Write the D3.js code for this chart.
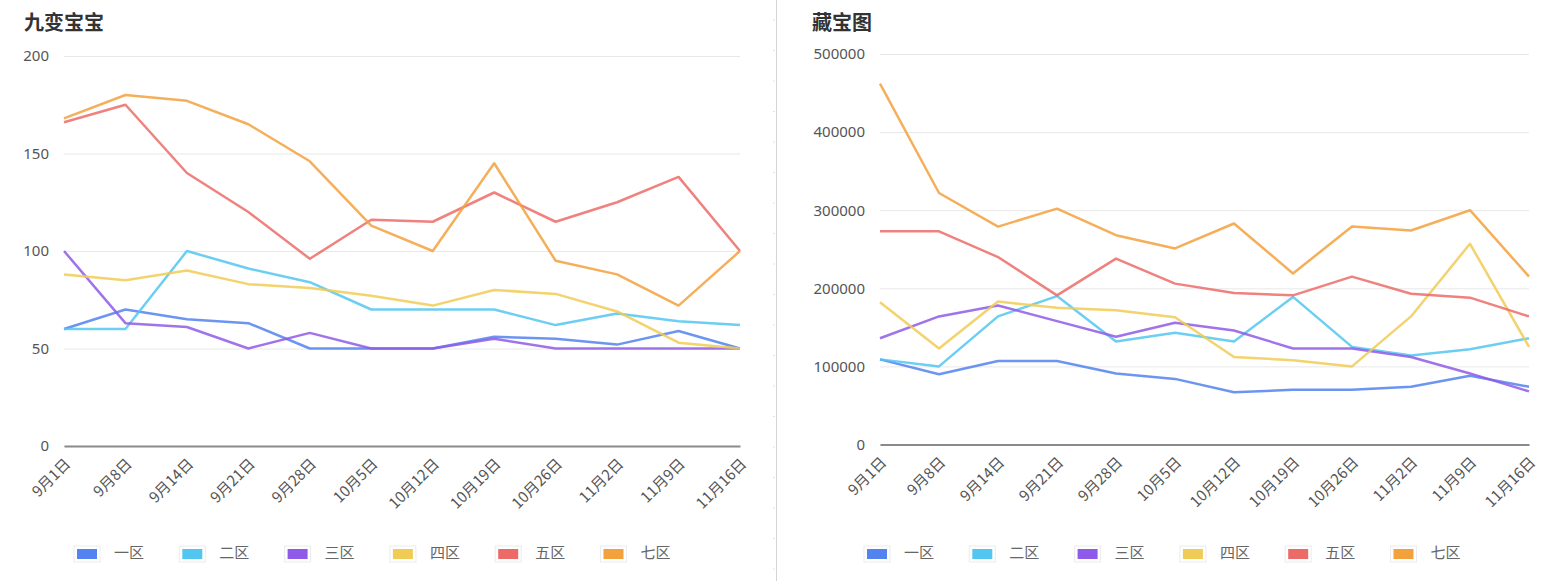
<!DOCTYPE html>
<html>
<head>
<meta charset="utf-8">
<script src="https://cdn.jsdelivr.net/npm/d3@7"></script>
<style>
  html, body { margin: 0; padding: 0; background: #fff; }
  svg { display: block; font-family: "Noto Sans CJK SC", "Noto Sans", sans-serif; }
</style>
</head>
<body>
<svg id="chart" width="1552" height="581"></svg>
<script>
// Categories (dates) shared by both charts
const dates = ["9月1日", "9月8日", "9月14日", "9月21日", "9月28日", "10月5日",
  "10月12日", "10月19日", "10月26日", "11月2日", "11月9日", "11月16日"];

const seriesNames = ["一区", "二区", "三区", "四区", "五区", "七区"];
const seriesColors = ["#5283f0", "#52c6f0", "#8f5ae8", "#f0cb55", "#ec6b67", "#f3a13d"];

// 九变宝宝
const jiubian1 = [60, 70, 65, 63, 50, 50, 50, 56, 55, 52, 59, 50];
const jiubian2 = [60, 60, 100, 91, 84, 70, 70, 70, 62, 68, 64, 62];
const jiubian3 = [100, 63, 61, 50, 58, 50, 50, 55, 50, 50, 50, 50];
const jiubian4 = [88, 85, 90, 83, 81, 77, 72, 80, 78, 69, 53, 50];
const jiubian5 = [166, 175, 140, 120, 96, 116, 115, 130, 115, 125, 138, 100];
const jiubian7 = [168, 180, 177, 165, 146, 113, 100, 145, 95, 88, 72, 100];
const jiubianTicks = [0, 50, 100, 150, 200];

// 藏宝图
const cangbao1 = [109000, 90000, 107000, 107000, 91000, 84000, 67000, 70000, 70000, 74000, 88000, 74000];
const cangbao2 = [109000, 100000, 164000, 190000, 132000, 143000, 132000, 189000, 125000, 114000, 122000, 136000];
const cangbao3 = [136000, 164000, 178000, 158000, 138000, 156000, 146000, 123000, 123000, 112000, 91000, 68000];
const cangbao4 = [182000, 123000, 183000, 175000, 172000, 163000, 112000, 108000, 100000, 164000, 257000, 125000];
const cangbao5 = [273000, 273000, 240000, 191000, 238000, 206000, 194000, 191000, 215000, 193000, 188000, 164000];
const cangbao7 = [462000, 322000, 279000, 302000, 268000, 251000, 283000, 219000, 279000, 274000, 300000, 215000];
const cangbaoTicks = [0, 100000, 200000, 300000, 400000, 500000];

const svg = d3.select("#chart");

function drawChart(opts) {
  const g = svg.append("g");

  const x = d3.scalePoint().domain(dates).range([opts.left, opts.right]);
  const y = d3.scaleLinear().domain([0, d3.max(opts.ticks)]).range([opts.bottom, opts.top]);

  // title
  g.append("text")
    .attr("x", opts.titleX)
    .attr("y", 25)
    .attr("dominant-baseline", "middle")
    .attr("font-size", 20)
    .attr("font-weight", "bold")
    .attr("fill", "#333")
    .text(opts.title);

  // grid lines + y labels
  const yAxis = d3.axisLeft(y)
    .tickValues(opts.ticks)
    .tickFormat(d3.format("d"))
    .tickSize(-(opts.right - opts.left))
    .tickPadding(15);
  const ya = g.append("g").attr("transform", `translate(${opts.left},0)`).call(yAxis);
  ya.select(".domain").remove();
  ya.selectAll(".tick line").attr("stroke", "#e8e8e8").attr("stroke-width", 1);
  ya.selectAll(".tick text")
    .attr("font-size", 15)
    .attr("fill", "#555")
    .attr("font-family", "'Noto Sans', sans-serif");

  // baseline axis
  const xAxis = d3.axisBottom(x).tickSize(0).tickPadding(0);
  const xa = g.append("g").attr("transform", `translate(0,${opts.bottom})`).call(xAxis);
  xa.select(".domain").attr("stroke", "#8a8a8a").attr("stroke-width", 2);
  xa.selectAll(".tick text")
    .attr("font-size", 15)
    .attr("fill", "#555")
    .attr("font-family", "'Noto Sans CJK SC', sans-serif")
    .attr("text-anchor", "end")
    .attr("dominant-baseline", "middle")
    .attr("y", 0)
    .attr("dy", 0)
    .attr("transform", "translate(4,16) rotate(-45)");

  // lines
  const line = d3.line()
    .x((d, i) => x(dates[i]))
    .y(d => y(d));

  g.selectAll("path.series")
    .data(opts.series)
    .enter()
    .append("path")
    .attr("class", "series")
    .attr("d", d => line(d))
    .attr("fill", "none")
    .attr("stroke", (d, i) => seriesColors[i])
    .attr("stroke-width", 2.5)
    .attr("stroke-opacity", 0.85)
    .attr("stroke-linejoin", "round");

  // legend
  const legend = g.append("g").attr("transform", `translate(${opts.legendX},554)`);
  const item = legend.selectAll("g")
    .data(seriesNames)
    .enter()
    .append("g")
    .attr("transform", (d, i) => `translate(${i * 105.3},0)`);

  item.append("rect")
    .attr("x", -3).attr("y", -8)
    .attr("width", 26).attr("height", 16)
    .attr("fill", "#fff")
    .attr("stroke", "#ececec");
  item.append("rect")
    .attr("x", 0).attr("y", -5)
    .attr("width", 20).attr("height", 10)
    .attr("fill", (d, i) => seriesColors[i]);
  item.append("text")
    .attr("x", 37)
    .attr("y", 0)
    .attr("dominant-baseline", "middle")
    .attr("font-size", 15)
    .attr("fill", "#666")
    .text(d => d);
}

drawChart({
  title: "九变宝宝", titleX: 24,
  left: 64, right: 740, top: 56, bottom: 446,
  ticks: jiubianTicks,
  series: [jiubian1, jiubian2, jiubian3, jiubian4, jiubian5, jiubian7],
  legendX: 77
});

drawChart({
  title: "藏宝图", titleX: 812,
  left: 880, right: 1529, top: 54, bottom: 444.5,
  ticks: cangbaoTicks,
  series: [cangbao1, cangbao2, cangbao3, cangbao4, cangbao5, cangbao7],
  legendX: 867
});

// divider between the two panels
svg.append("line")
  .attr("x1", 776.5).attr("x2", 776.5)
  .attr("y1", 0).attr("y2", 581)
  .attr("stroke", "#d4d4d4");
svg.append("g")
  .selectAll("line")
  .data(d3.range(20, 581, 30.5))
  .enter()
  .append("line")
  .attr("x1", 773).attr("x2", 775)
  .attr("y1", d => d).attr("y2", d => d)
  .attr("stroke", "#e4e4e4");
</script>
</body>
</html>
